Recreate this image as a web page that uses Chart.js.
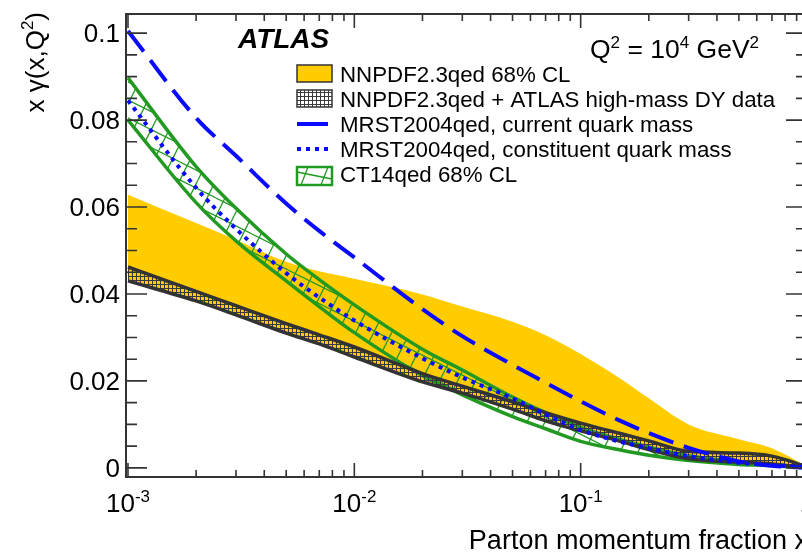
<!DOCTYPE html>
<html>
<head>
<meta charset="utf-8">
<title>Photon PDF x gamma(x, Q^2)</title>
<script src="https://cdn.jsdelivr.net/npm/chart.js@4.4.1/dist/chart.umd.min.js"></script>
<style>
  html, body { margin: 0; padding: 0; background: #fff; overflow: hidden; }
  #photonChart { display: block; }
</style>
</head>
<body>
<canvas id="photonChart" width="808" height="555"></canvas>
<script>
// x gamma(x, Q^2) at Q^2 = 1e4 GeV^2
var xValues         = [0.001, 0.002, 0.003, 0.005, 0.007, 0.01, 0.02, 0.03, 0.05, 0.07, 0.1, 0.15, 0.2, 0.3, 0.5, 0.7, 1.0];
var mrstCurrent     = [0.1005, 0.0805, 0.0718, 0.0608, 0.0545, 0.0484, 0.0365, 0.0303, 0.0237, 0.0196, 0.0153, 0.0108, 0.0080, 0.0046, 0.0015, 0.0005, 0.0];
var mrstConstituent = [0.0845, 0.0644, 0.0550, 0.0448, 0.0392, 0.0339, 0.0252, 0.0208, 0.0160, 0.0123, 0.0087, 0.0060, 0.0045, 0.0027, 0.0012, 0.0006, 0.0002];
var nnpdfUp         = [0.0628, 0.0563, 0.0525, 0.0474, 0.0452, 0.0435, 0.0399, 0.0371, 0.0336, 0.0305, 0.0262, 0.0205, 0.0160, 0.0100, 0.0066, 0.0045, 0.0003];
var nnpdfLo         = [0.0430, 0.0384, 0.0352, 0.0310, 0.0285, 0.0255, 0.0198, 0.0172, 0.0135, 0.0108, 0.0085, 0.0061, 0.0042, 0.0021, 0.0013, 0.0009, 0.0];
var atlasDyUp       = [0.0462, 0.0406, 0.0373, 0.0332, 0.0306, 0.0278, 0.0217, 0.0188, 0.0152, 0.0127, 0.0103, 0.0079, 0.0062, 0.0038, 0.0034, 0.0027, 0.0003];
var atlasDyLo       = [0.0430, 0.0384, 0.0352, 0.0310, 0.0285, 0.0255, 0.0198, 0.0172, 0.0135, 0.0108, 0.0085, 0.0061, 0.0042, 0.0021, 0.0013, 0.0009, 0.0];
var ct14Up          = [0.0897, 0.0693, 0.0597, 0.0492, 0.0433, 0.0375, 0.0273, 0.0225, 0.0163, 0.0127, 0.0093, 0.0065, 0.0048, 0.0028, 0.0013, 0.0007, 0.0001];
var ct14Lo          = [0.0800, 0.0610, 0.0522, 0.0430, 0.0371, 0.0311, 0.0212, 0.0168, 0.0118, 0.0090, 0.0061, 0.0041, 0.0029, 0.0017, 0.0008, 0.0005, 0.0];

// axis ticks
var xDecades     = [0.001, 0.01, 0.1, 1];
var xTickBase    = ['10', '10', '10', '1'];
var xTickExp     = ['-3', '-2', '-1', ''];
var yMajorTicks  = [0, 0.02, 0.04, 0.06, 0.08, 0.1];
var yMajorLabels = ['0', '0.02', '0.04', '0.06', '0.08', '0.1'];
var yMinorStep   = 0.005;

var legendLabels = [
    'NNPDF2.3qed 68% CL',
    'NNPDF2.3qed + ATLAS high-mass DY data',
    'MRST2004qed, current quark mass',
    'MRST2004qed, constituent quark mass',
    'CT14qed 68% CL'
];

var FONT = '"Liberation Sans", Arial, Helvetica, sans-serif';
var blue = '#0a0aff';
var green = '#229a22';
var dark = '#333333';
var yellow = '#ffcc00';

// fill patterns (ROOT style hatches)
function makeGridPattern() {
    var c = document.createElement('canvas');
    c.width = 4; c.height = 4;
    var g = c.getContext('2d');
    g.fillStyle = '#3a3a3a';
    g.fillRect(0, 0, 4, 1);
    g.fillRect(0, 0, 1, 4);
    return g.createPattern(c, 'repeat');
}
function makeHatchPattern() {
    var s = 36;
    var c = document.createElement('canvas');
    c.width = s; c.height = s;
    var g = c.getContext('2d');
    g.strokeStyle = green;
    g.lineWidth = 1.3;
    g.beginPath();
    // steep lines, slope -2
    for (var k = -1; k <= 2; k++) {
        g.moveTo(k * s / 2, s); g.lineTo(k * s / 2 + s / 2, 0);
    }
    // shallow lines, slope +1/2
    for (var j = -1; j <= 2; j++) {
        g.moveTo(0, j * s / 2); g.lineTo(s, j * s / 2 + s / 2);
    }
    g.stroke();
    return g.createPattern(c, 'repeat');
}
var gridPattern = makeGridPattern();
var hatchPattern = makeHatchPattern();

function pts(ys) {
    return xValues.map(function(x, i) { return { x: x, y: ys[i] }; });
}

// superscript text helpers
function supWidth(ctx, base, sup, big, small) {
    ctx.font = big + 'px ' + FONT;
    var w = ctx.measureText(base).width;
    ctx.font = small + 'px ' + FONT;
    return w + (sup ? ctx.measureText(sup).width : 0);
}
function drawSup(ctx, base, sup, x, y, big, small, raise) {
    ctx.font = big + 'px ' + FONT;
    ctx.fillText(base, x, y);
    var w = ctx.measureText(base).width;
    if (sup) {
        ctx.font = small + 'px ' + FONT;
        ctx.fillText(sup, x + w, y - raise);
        w += ctx.measureText(sup).width;
    }
    return w;
}

var rootStyle = {
    id: 'rootStyle',
    afterDatasetsDraw: function(chart) {
        var ctx = chart.ctx;
        var a = chart.chartArea;
        var xs = chart.scales.x;
        var ys = chart.scales.y;

        ctx.save();
        ctx.strokeStyle = dark;
        ctx.fillStyle = '#000';

        // frame
        ctx.lineWidth = 2;
        ctx.strokeRect(a.left, a.top, a.right - a.left, a.bottom - a.top);

        // x ticks, top and bottom, pointing inward
        ctx.lineWidth = 1.6;
        ctx.beginPath();
        xDecades.forEach(function(d) {
            for (var k = 1; k <= 9; k++) {
                var v = d * k;
                if (v < xs.min || v > xs.max * 1.0001) continue;
                var px = xs.getPixelForValue(v);
                var len = k === 1 ? 14 : 7;
                ctx.moveTo(px, a.bottom); ctx.lineTo(px, a.bottom - len);
                ctx.moveTo(px, a.top); ctx.lineTo(px, a.top + len);
            }
        });
        // y ticks, left and right
        for (var t = 0; t <= 0.1 + 1e-9; t += yMinorStep) {
            var py = ys.getPixelForValue(t);
            var major = Math.abs(t / 0.02 - Math.round(t / 0.02)) < 1e-6;
            var l = major ? 21 : 11;
            ctx.moveTo(a.left, py); ctx.lineTo(a.left + l, py);
            ctx.moveTo(a.right, py); ctx.lineTo(a.right - l, py);
        }
        ctx.stroke();

        // y tick labels
        ctx.textAlign = 'right';
        ctx.textBaseline = 'alphabetic';
        ctx.font = '26px ' + FONT;
        yMajorTicks.forEach(function(v, i) {
            ctx.fillText(yMajorLabels[i], a.left - 6, ys.getPixelForValue(v) + 9);
        });

        // x tick labels with exponents
        ctx.textAlign = 'left';
        xDecades.forEach(function(d, i) {
            var px = xs.getPixelForValue(d);
            var w = supWidth(ctx, xTickBase[i], xTickExp[i], 26, 17);
            drawSup(ctx, xTickBase[i], xTickExp[i], px - w / 2, a.bottom + 35, 26, 17, 10);
        });

        // axis titles
        ctx.font = '27px ' + FONT;
        ctx.textAlign = 'right';
        ctx.fillText('Parton momentum fraction x', a.right + 1, 549);

        ctx.save();
        ctx.translate(44, 12);
        ctx.rotate(-Math.PI / 2);
        ctx.textAlign = 'left';
        var tw = supWidth(ctx, 'x \u03b3(x,Q', '2', 26, 17);
        ctx.font = '26px ' + FONT;
        tw += ctx.measureText(')').width;
        var tx = -tw;
        tx += drawSup(ctx, 'x \u03b3(x,Q', '2', tx, 0, 26, 17, 11);
        ctx.font = '26px ' + FONT;
        ctx.fillText(')', tx, 0);
        ctx.restore();

        // ATLAS label
        ctx.textAlign = 'left';
        ctx.font = 'italic bold 28px ' + FONT;
        ctx.fillText('ATLAS', 238, 48);

        // Q^2 = 10^4 GeV^2
        var qx = 590;
        qx += drawSup(ctx, 'Q', '2', qx, 58, 26.5, 17, 10);
        qx += drawSup(ctx, ' = 10', '4', qx, 58, 26.5, 17, 10);
        drawSup(ctx, ' GeV', '2', qx, 58, 26.5, 17, 10);

        // legend
        var lx = 297, lw = 35, tx0 = 340;
        var base = [82, 107, 132, 157, 182];
        ctx.font = '22.3px ' + FONT;
        legendLabels.forEach(function(txt, i) {
            ctx.fillStyle = '#000';
            ctx.fillText(txt, tx0, base[i]);
        });
        // yellow box
        ctx.fillStyle = yellow;
        ctx.fillRect(lx, 65, lw, 17);
        ctx.lineWidth = 1.5;
        ctx.strokeStyle = dark;
        ctx.strokeRect(lx, 65, lw, 17);
        // grid box
        ctx.fillStyle = gridPattern;
        ctx.fillRect(lx, 90, lw, 17);
        ctx.strokeRect(lx, 90, lw, 17);
        // blue lines
        ctx.strokeStyle = blue;
        ctx.lineWidth = 4;
        ctx.beginPath(); ctx.moveTo(lx, 124); ctx.lineTo(lx + 31, 124); ctx.stroke();
        ctx.setLineDash([4, 5]);
        ctx.beginPath(); ctx.moveTo(lx, 149); ctx.lineTo(lx + 33, 149); ctx.stroke();
        ctx.setLineDash([]);
        // green hatched box
        ctx.strokeStyle = green;
        ctx.lineWidth = 1.3;
        ctx.beginPath();
        ctx.moveTo(lx + 4, 185); ctx.lineTo(lx + 11, 167);
        ctx.moveTo(lx + 24, 185); ctx.lineTo(lx + 31, 167);
        ctx.moveTo(lx, 172); ctx.lineTo(lx + lw, 179);
        ctx.stroke();
        ctx.lineWidth = 2.5;
        ctx.strokeRect(lx, 167, lw, 18);

        ctx.restore();
    }
};

var ctx = document.getElementById('photonChart').getContext('2d');
var photonChart = new Chart(ctx, {
    type: 'line',
    data: {
        datasets: [{
            label: legendLabels[2],
            data: pts(mrstCurrent),
            borderColor: blue,
            borderWidth: 4,
            borderDash: [26, 11],
            fill: false
        }, {
            label: legendLabels[3],
            data: pts(mrstConstituent),
            borderColor: blue,
            borderWidth: 4,
            borderDash: [4, 5],
            fill: false
        }, {
            label: legendLabels[1],
            data: pts(atlasDyUp),
            borderColor: dark,
            borderWidth: 3.5,
            fill: false
        }, {
            label: legendLabels[1] + ' (lower)',
            data: pts(atlasDyLo),
            borderColor: dark,
            borderWidth: 3.5,
            backgroundColor: gridPattern,
            fill: '-1'
        }, {
            label: legendLabels[4],
            data: pts(ct14Up),
            borderColor: green,
            borderWidth: 3.5,
            fill: false
        }, {
            label: legendLabels[4] + ' (lower)',
            data: pts(ct14Lo),
            borderColor: green,
            borderWidth: 3.5,
            backgroundColor: hatchPattern,
            fill: '-1'
        }, {
            label: legendLabels[0],
            data: pts(nnpdfUp),
            borderColor: 'rgba(0,0,0,0)',
            borderWidth: 1,
            fill: false
        }, {
            label: legendLabels[0] + ' (lower)',
            data: pts(nnpdfLo),
            borderColor: 'rgba(0,0,0,0)',
            borderWidth: 1,
            backgroundColor: yellow,
            fill: '-1'
        }]
    },
    options: {
        responsive: false,
        animation: false,
        layout: { padding: { left: 126, top: 14, right: 1, bottom: 78 } },
        elements: {
            point: { radius: 0 },
            line: { cubicInterpolationMode: 'monotone' }
        },
        scales: {
            x: { type: 'logarithmic', min: 0.00098, max: 1, display: false },
            y: { type: 'linear', min: -0.0021, max: 0.1044, display: false }
        },
        plugins: {
            legend: { display: false },
            tooltip: { enabled: false }
        }
    },
    plugins: [rootStyle]
});
</script>
</body>
</html>
